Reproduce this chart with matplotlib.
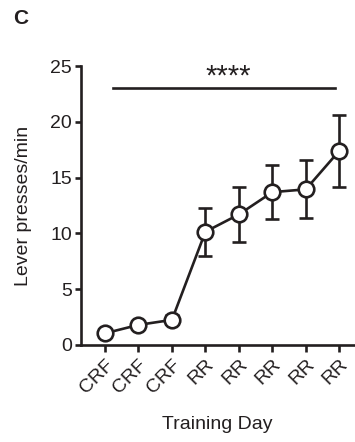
import matplotlib.pyplot as plt
import matplotlib.transforms as mtransforms
import numpy as np

plt.rcParams['font.family'] = ['Liberation Sans', 'DejaVu Sans']

days = ['CRF', 'CRF', 'CRF', 'RR', 'RR', 'RR', 'RR', 'RR']
presses = [1.05, 1.8, 2.25, 10.15, 11.7, 13.7, 13.95, 17.4]
sem = [0.3, 0.3, 0.4, 2.15, 2.5, 2.4, 2.6, 3.25]
sig_y = 23.05
sig_label = '****'

col = '#231f20'
lw = 1.9

fig = plt.figure(figsize=(3.55, 4.42), dpi=100)
ax = fig.add_axes([0.228, 0.2195, 0.77, 0.631])

x = np.arange(len(days))
ax.errorbar(x, presses, yerr=sem, color=col, lw=lw, elinewidth=lw,
            capsize=5.0, capthick=lw, marker='o', ms=11.2, mfc='white',
            mec=col, mew=lw, zorder=3)

# significance bar
ax.plot([0.24, 6.87], [sig_y, sig_y], color=col, lw=lw, clip_on=False)
ax.text(3.67, sig_y - 0.25, sig_label, ha='center', va='bottom',
        fontsize=21, color=col)

ax.set_xlim(-0.72, 7.45)
ax.set_ylim(0, 25)
ax.set_yticks([0, 5, 10, 15, 20, 25])
ax.set_xticks(x)
ax.set_xticklabels(days, rotation=45, ha='right', rotation_mode='anchor')
shift = mtransforms.ScaledTranslation(7 / 100, -1 / 100, fig.dpi_scale_trans)
for lab in ax.get_xticklabels():
    lab.set_transform(lab.get_transform() + shift)

for s in ['top', 'right']:
    ax.spines[s].set_visible(False)
for s in ['left', 'bottom']:
    ax.spines[s].set_linewidth(lw)
    ax.spines[s].set_color(col)

ax.tick_params(axis='both', width=lw, color=col, labelsize=14,
               labelcolor=col, length=4.5, pad=2)
ax.tick_params(axis='x', length=5, pad=3)

ax.set_ylabel('Lever presses/min', fontsize=14, color=col, labelpad=13)
ax.set_xlabel('Training Day', fontsize=14, color=col, labelpad=14)

fig.text(0.037, 0.958, 'C', fontsize=15, fontweight='bold', color=col,
         va='center', ha='left')

fig.savefig('out.png', dpi=100)
